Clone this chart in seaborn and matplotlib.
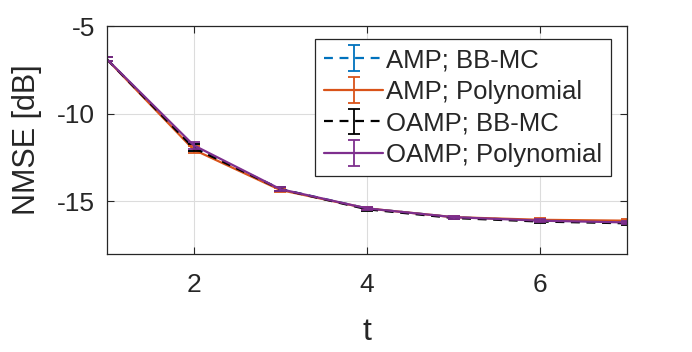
import matplotlib
matplotlib.use("Agg")
import matplotlib.pyplot as plt
import seaborn as sns
import numpy as np
import pandas as pd
from matplotlib.legend_handler import HandlerTuple

t = [1, 2, 3, 4, 5, 6, 7]
amp_bbmc = [-6.9, -11.9, -14.3, -15.4, -15.9, -16.1, -16.2]
amp_poly = [-6.9, -12.05, -14.35, -15.4, -15.9, -16.05, -16.1]
oamp_bbmc = [-6.9, -11.95, -14.3, -15.45, -15.95, -16.15, -16.25]
oamp_poly = [-6.9, -11.8, -14.3, -15.4, -15.9, -16.1, -16.2]
err = [0.12, 0.2, 0.1, 0.08, 0.08, 0.08, 0.1]

labels = ["AMP; BB-MC", "AMP; Polynomial", "OAMP; BB-MC", "OAMP; Polynomial"]
series = [amp_bbmc, amp_poly, oamp_bbmc, oamp_poly]
colors = ["#0072BD", "#D95319", "#000000", "#7E2F8E"]
styles = [(0, (4, 3)), "-", (0, (4, 3)), "-"]

sns.set_style("white")
plt.rcParams["font.family"] = ["Liberation Sans", "DejaVu Sans"]
plt.rcParams["axes.unicode_minus"] = False

fig = plt.figure(figsize=(6.92, 3.52), dpi=100)
ax = fig.add_axes([0.1546, 0.2784, 0.7514, 0.6477])

rows = []
for lab, vals in zip(labels, series):
    for ti, v in zip(t, vals):
        rows.append({"t": ti, "NMSE": v, "series": lab})
df = pd.DataFrame(rows)

handles = []
for lab, vals, c, ls in zip(labels, series, colors, styles):
    sub = df[df["series"] == lab]
    sns.lineplot(data=sub, x="t", y="NMSE", ax=ax, color=c, linewidth=1.6,
                 legend=False, errorbar=None)
    line = ax.lines[-1]
    line.set_linestyle(ls)
    eb = ax.errorbar(t, vals, yerr=err, fmt="none", ecolor=c, elinewidth=1.3,
                     capsize=4, capthick=1.3)
    handles.append((line, eb))

ax.set_xlim(1, 7)
ax.set_ylim(-18, -5)
ax.set_xticks([2, 4, 6])
ax.set_yticks([-15, -10, -5])
ax.grid(True, color="#dcdcdc", linewidth=0.8)
ax.tick_params(direction="in", length=5, width=0.8, labelsize=19, colors="#262626",
               top=True, right=True, bottom=True, left=True)
ax.tick_params(axis="x", pad=14)
ax.tick_params(axis="y", pad=8.5)
for s in ax.spines.values():
    s.set_color("#262626")
    s.set_linewidth(0.9)
ax.set_xlabel("t", fontsize=23, color="#262626", labelpad=14)
ax.set_ylabel("NMSE [dB]", fontsize=22, color="#262626", labelpad=11)

leg = ax.legend(handles, labels, handler_map={tuple: HandlerTuple(ndivide=1)},
                loc="upper right", bbox_to_anchor=(0.969, 0.943), fontsize=18.5,
                frameon=True, fancybox=False, framealpha=1, edgecolor="#262626",
                handlelength=2.3, handletextpad=0.1, labelspacing=0.3,
                borderpad=0.35, borderaxespad=0)
leg.get_frame().set_linewidth(0.9)

fig.savefig("out.png", dpi=100)
